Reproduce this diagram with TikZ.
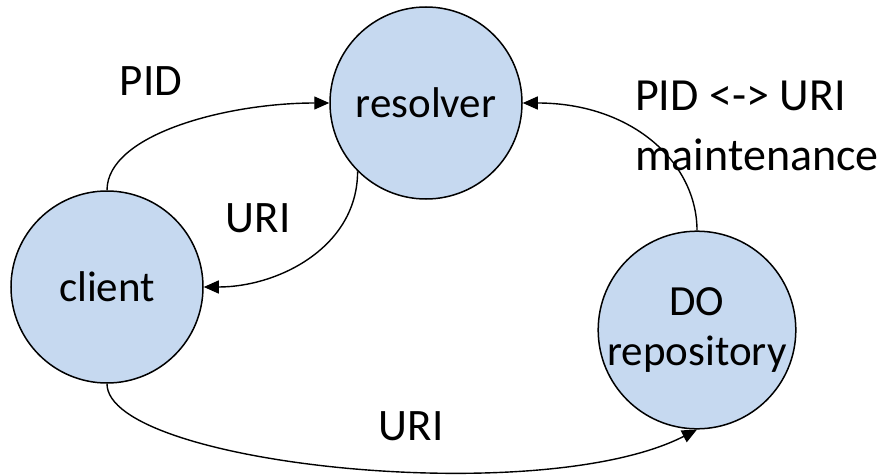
\documentclass[tikz,border=0pt]{standalone}
\usepackage{fontspec}
\setmainfont{Carlito}
\usetikzlibrary{arrows.meta}
\definecolor{nodefill}{HTML}{C6D9F0}
\tikzset{
  entity/.style={circle, draw=black, line width=1.5pt, fill=nodefill, minimum size=192pt, inner sep=0pt, align=center, font=\fontsize{43}{50}\selectfont},
  flow/.style={line width=1.4pt, -{Triangle[length=15pt,width=13pt]}},
  lbl/.style={font=\fontsize{45}{60}\selectfont, inner sep=0pt}
}
\begin{document}
\begin{tikzpicture}[x=1pt,y=-1pt]
\useasboundingbox (0,0) rectangle (888,476);
\node[entity] (resolver) at (426,103) {resolver};
\node[entity] (client) at (107,287) {client};
\node[entity] (repo) at (697,330) {DO\\repository};
\draw[flow] (client.north) to[out=90,in=180,out looseness=0.6,in looseness=1.1] (resolver.west);
\draw[flow] (resolver.-135) to[out=-90,in=0] (client.east);
\draw[flow] (repo.north) to[out=90,in=0,out looseness=0.8,in looseness=1.3] (resolver.east);
\draw[flow] (client.south) .. controls (107,464) and (540,510) .. (repo.south);
\node[lbl, anchor=base] (lpid) at (151,96) {PID};
\node[lbl, anchor=base] (luri1) at (258,232) {URI};
\node[lbl, anchor=base] (luri2) at (411,440) {URI};
\node[lbl, anchor=base west, align=left, font=\fontsize{46}{60}\selectfont] (lmaint) at (635,170) {PID <-> URI\\maintenance};
\end{tikzpicture}
\end{document}
